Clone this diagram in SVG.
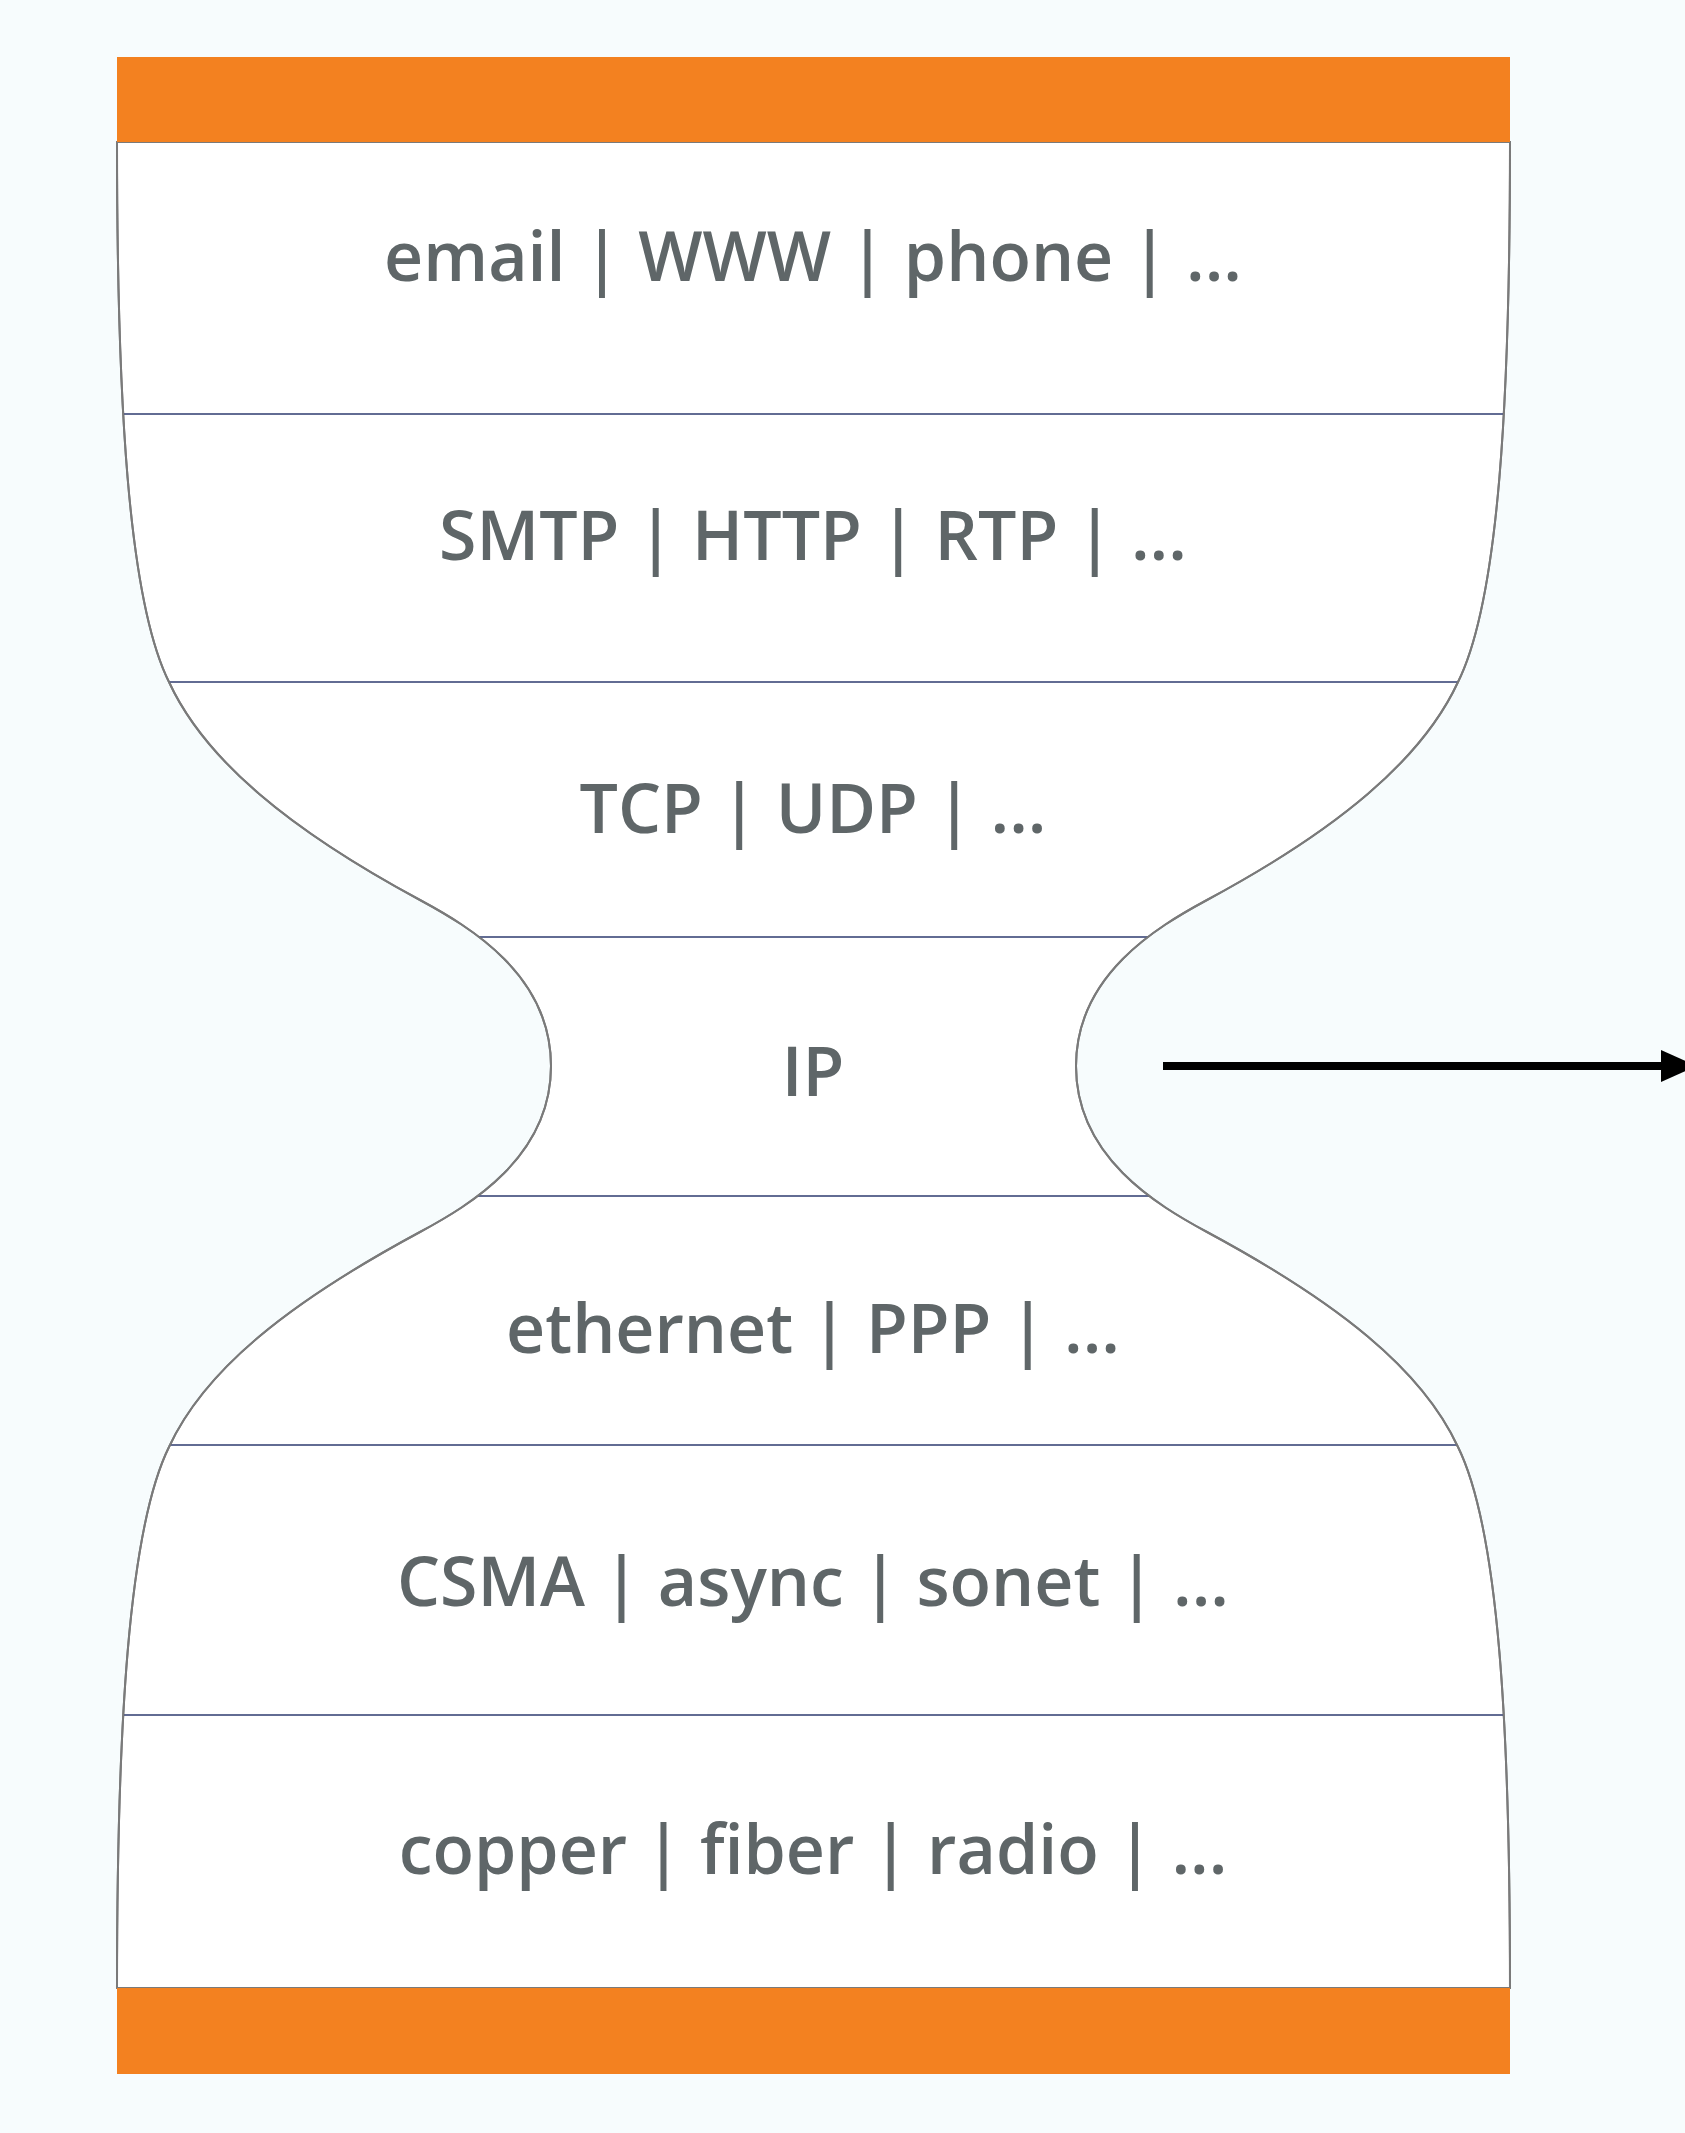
<svg xmlns="http://www.w3.org/2000/svg" width="1685" height="2133" viewBox="0 0 1685 2133">
  <defs>
    <style>
      .label { font-family: "Open Sans", "Noto Sans", "Liberation Sans", sans-serif; font-weight: 600; font-size: 68px; fill: #5f6668; text-anchor: middle; }
      .sep { stroke: #2e3b6f; stroke-width: 1.4; fill: none; }
      .outline { fill: #ffffff; stroke: #7a7a7a; stroke-width: 2; }
      .cap { fill: #f38120; }
      .connector { stroke: #000000; stroke-width: 8; fill: none; }
    </style>
    <!-- hourglass body: mirrored left/right about x=813.5 -->
    <path id="body" d="M117,142 C117,400 128,600 169,682 C205,760 290,830 420,900 C470,927 551,975 551,1066 C551,1157 470,1205 420,1232 C290,1302 205,1369 169,1447 C128,1530 117,1730 117,1988 L1510,1988 C1510,1730 1499,1530 1458,1447 C1422,1369 1337,1302 1207,1232 C1157,1205 1076,1157 1076,1066 C1076,975 1157,927 1207,900 C1337,830 1422,760 1458,682 C1499,600 1510,400 1510,142 Z"/>
    <clipPath id="bodyClip">
      <use href="#body"/>
    </clipPath>
    <marker id="arrowHead" markerUnits="userSpaceOnUse" markerWidth="40" markerHeight="34" refX="38" refY="17" orient="auto">
      <path d="M2,1 L38,17 L2,33 Z" fill="#000000"/>
    </marker>
  </defs>

  <rect x="0" y="0" width="1685" height="2133" fill="#f7fcfd"/>

  <g id="hourglass">
    <use href="#body" class="outline"/>
  </g>

  <!-- layer boundaries, clipped to the hourglass -->
  <g id="separators" clip-path="url(#bodyClip)">
    <line class="sep" x1="100" y1="414" x2="1530" y2="414"/>
    <line class="sep" x1="100" y1="682" x2="1530" y2="682"/>
    <line class="sep" x1="100" y1="937" x2="1530" y2="937"/>
    <line class="sep" x1="100" y1="1196" x2="1530" y2="1196"/>
    <line class="sep" x1="100" y1="1445" x2="1530" y2="1445"/>
    <line class="sep" x1="100" y1="1715" x2="1530" y2="1715"/>
  </g>
  <use href="#body" fill="none" stroke="#7a7a7a" stroke-width="2"/>

  <g id="top-bar"><rect class="cap" x="117" y="57" width="1393" height="85"/></g>
  <g id="bottom-bar"><rect class="cap" x="117" y="1988" width="1393" height="86"/></g>

  <g id="layer-applications"><text class="label" x="813" y="281">email | WWW | phone | ...</text></g>
  <g id="layer-app-protocols"><text class="label" x="813" y="560">SMTP | HTTP | RTP | ...</text></g>
  <g id="layer-transport"><text class="label" x="813" y="833">TCP | UDP | ...</text></g>
  <g id="layer-ip"><text class="label" x="813" y="1096">IP</text></g>
  <g id="layer-link"><text class="label" x="813" y="1353">ethernet | PPP | ...</text></g>
  <g id="layer-mac"><text class="label" x="813" y="1606">CSMA | async | sonet | ...</text></g>
  <g id="layer-physical"><text class="label" x="813" y="1874">copper | fiber | radio | ...</text></g>

  <g id="connectors">
    <line class="connector" x1="1163" y1="1066" x2="1697" y2="1066" marker-end="url(#arrowHead)"/>
  </g>
</svg>
